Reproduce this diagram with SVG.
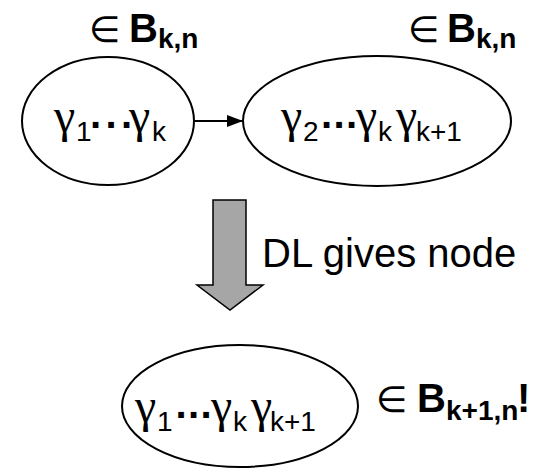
<svg xmlns="http://www.w3.org/2000/svg" width="541" height="470" viewBox="0 0 541 470">
<defs>
<style>
.node{fill:#fff;stroke:#000;stroke-width:2}
.t{font-family:"Liberation Sans",Arial,sans-serif;fill:#000}
.g{font-family:"Liberation Serif","Times New Roman",serif;font-size:48px}
.sub{font-size:28px}
.dots{font-size:40px;font-weight:bold}
.el{font-family:"DejaVu Sans",sans-serif;font-size:36px;font-weight:normal}
.B{font-size:40px;font-weight:bold}
.Bs{font-size:28px;font-weight:bold}
.lbl{font-size:40px}
</style>
<marker id="ah2" viewBox="0 0 16 12" refX="16" refY="6" markerWidth="16" markerHeight="12" markerUnits="userSpaceOnUse" orient="auto">
<path d="M0,0 L16,6 L0,12 z" fill="#000"/>
</marker>
</defs>

<g id="label-top-left">
<text class="t B"><tspan class="el" x="89" y="42">∈</tspan><tspan x="129" y="42">B</tspan><tspan class="Bs" x="158" y="48">k,n</tspan></text>
</g>
<g id="label-top-right">
<text class="t B"><tspan class="el" x="408" y="42">∈</tspan><tspan x="447" y="42">B</tspan><tspan class="Bs" x="476" y="48">k,n</tspan></text>
</g>

<g id="node1">
<ellipse class="node" cx="108" cy="121" rx="86" ry="64"/>
<text class="t"><tspan class="g" x="54" y="132">γ</tspan><tspan class="sub" x="76" y="141">1</tspan><tspan class="dots" x="90 105.5 121" y="139">···</tspan><tspan class="g" x="129" y="132">γ</tspan><tspan class="sub" x="152" y="141">k</tspan></text>
</g>

<g id="node2">
<ellipse class="node" cx="377" cy="121" rx="134" ry="65"/>
<text class="t"><tspan class="g" x="281" y="132">γ</tspan><tspan class="sub" x="303" y="141">2</tspan><tspan class="dots" x="321 333.5 346" y="139">···</tspan><tspan class="g" x="356" y="132">γ</tspan><tspan class="sub" x="378" y="141">k</tspan><tspan class="g" x="396" y="132">γ</tspan><tspan class="sub" x="416" y="141">k+1</tspan></text>
</g>

<g id="connectors">
<line x1="194" y1="121" x2="243" y2="121" stroke="#000" stroke-width="2" marker-end="url(#ah2)"/>
</g>

<g id="dl-arrow">
<polygon points="213,200 246,200 246,285 263,285 230,310 197,285 213,285" fill="#a6a6a6" stroke="#000" stroke-width="1.5"/>
<text class="t lbl" x="262" y="267">DL gives node</text>
</g>

<g id="node3">
<ellipse class="node" cx="240" cy="406" rx="118" ry="61"/>
<text class="t"><tspan class="g" x="135" y="422">γ</tspan><tspan class="sub" x="157" y="431">1</tspan><tspan class="dots" x="175.5 188 200.5" y="429">···</tspan><tspan class="g" x="211" y="422">γ</tspan><tspan class="sub" x="233" y="431">k</tspan><tspan class="g" x="251" y="422">γ</tspan><tspan class="sub" x="270" y="431">k+1</tspan></text>
</g>

<g id="label-bottom">
<text class="t B"><tspan class="el" x="376" y="412">∈</tspan><tspan x="417" y="412">B</tspan><tspan class="Bs" x="446" y="420">k+1,n</tspan><tspan x="517" y="412">!</tspan></text>
</g>
</svg>
